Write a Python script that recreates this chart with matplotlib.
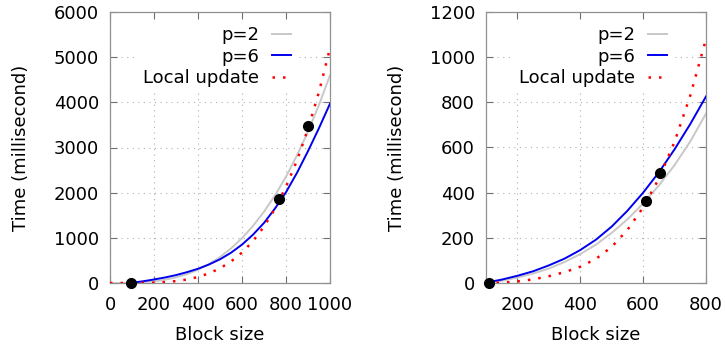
import matplotlib
matplotlib.use("Agg")
import matplotlib.pyplot as plt

plt.rcParams['font.family'] = ['DejaVu Sans']

# ---------------- DATA ----------------
# left panel
l_x = [0, 50, 100, 150, 200, 250, 300, 350, 400, 450, 500,
       550, 600, 650, 700, 750, 800, 850, 900, 950, 1000]
l_p2 = [0, 0.6, 4.6, 15.5, 37, 72, 124, 197, 294, 419, 575,
        765, 994, 1263, 1578, 1941, 2355, 2825, 3353, 3944, 4600]
l_p6_x = [90, 150, 200, 250, 300, 350, 400, 450, 500, 550, 600,
          650, 700, 750, 800, 850, 900, 950, 1000]
l_p6 = [0, 38, 78, 122, 175, 240, 315, 410, 525, 670, 850,
        1070, 1330, 1650, 2010, 2440, 2920, 3430, 3970]
l_loc = [0, 0.03, 0.5, 2.6, 8.3, 20, 42, 78, 133, 213, 325,
         476, 674, 928, 1249, 1645, 2130, 2714, 3412, 4235, 5200]
l_pts_x = [95, 770, 902]
l_pts_y = [0, 1850, 3473]

# right panel
r_x = [100, 150, 200, 250, 300, 350, 400, 450, 500, 550, 600,
       650, 700, 750, 800]
r_p2 = [0, 10, 24, 42, 64, 93, 128, 170, 222, 282, 352,
        432, 522, 627, 750]
r_p6 = [2, 15, 32, 52, 78, 108, 146, 192, 250, 320, 400,
        490, 592, 704, 826]
r_loc = [0, 1.5, 7, 16, 30, 48, 72, 107, 160, 235, 335,
         462, 625, 830, 1080]
r_pts_x = [108, 609, 655]
r_pts_y = [0, 363, 486]

labels = ["p=2", "p=6", "Local update"]

FS = 13


def draw(ax, x, p2, p6x, p6, loc, px, py, xlim, xticks, ylim, yticks):
    ax.plot(x, p2, color="#c8c8c8", lw=1.4, label=labels[0], zorder=3)
    ax.plot(p6x, p6, color="#0000ee", lw=1.4, label=labels[1], zorder=3)
    ax.plot(x, loc, color="#ff0000", lw=1.8, linestyle=(0, (1, 3.2)),
            label=labels[2], zorder=3)
    ax.plot(px, py, "o", color="black", ms=7, zorder=5, clip_on=False)

    ax.set_xlim(*xlim)
    ax.set_ylim(*ylim)
    ax.set_xticks(xticks)
    ax.set_yticks(yticks)
    ax.grid(True, color="#b0b0b0", lw=0.8, linestyle=(0, (1, 4)))
    ax.tick_params(direction="in", length=5, width=0.8, color="#707070",
                   top=True, right=True, labelsize=FS)
    ax.tick_params(axis="x", pad=9.5)
    ax.tick_params(axis="y", pad=8)
    for s in ax.spines.values():
        s.set_color("#909090")
        s.set_linewidth(0.9)

    ax.set_xlabel("Block size", fontsize=FS)
    ax.set_ylabel("Time (millisecond)", fontsize=FS)
    ax.xaxis.set_label_coords(0.5, -0.16)
    ax.yaxis.set_label_coords(-0.365, 0.5)

    leg = ax.legend(loc="upper right", bbox_to_anchor=(0.845, 0.965),
                    markerfirst=False, fontsize=FS, handlelength=1.1,
                    handletextpad=0.7, labelspacing=0.2, borderpad=0.25,
                    borderaxespad=0, frameon=True, fancybox=False)
    leg.get_frame().set_facecolor("white")
    leg.get_frame().set_edgecolor("none")
    leg.get_frame().set_alpha(1)
    for t in leg.get_texts():
        t.set_ha("right")


fig = plt.figure(figsize=(7.25, 3.51), dpi=100)
ax1 = fig.add_axes([110 / 725, 68 / 351, 220 / 725, 271 / 351])
ax2 = fig.add_axes([486 / 725, 68 / 351, 220 / 725, 271 / 351])

draw(ax1, l_x, l_p2, l_p6_x, l_p6, l_loc, l_pts_x, l_pts_y,
     (0, 1000), [0, 200, 400, 600, 800, 1000],
     (0, 6000), [0, 1000, 2000, 3000, 4000, 5000, 6000])
draw(ax2, r_x, r_p2, r_x, r_p6, r_loc, r_pts_x, r_pts_y,
     (100, 800), [200, 400, 600, 800],
     (0, 1200), [0, 200, 400, 600, 800, 1000, 1200])

fig.savefig("out.png", dpi=100)
